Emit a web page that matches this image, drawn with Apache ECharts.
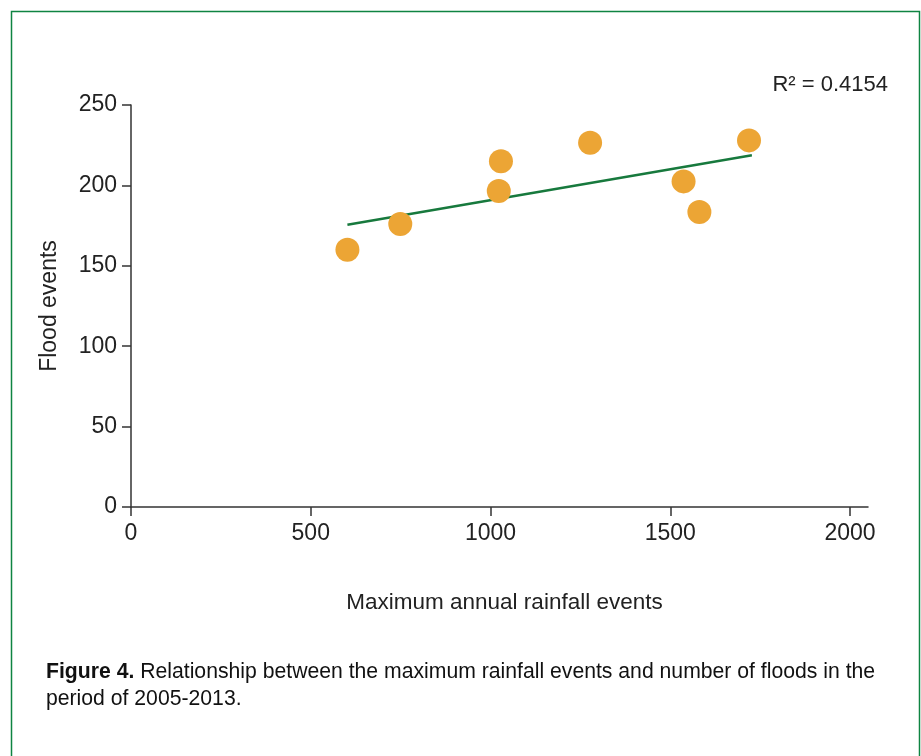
<!DOCTYPE html>
<html>
<head>
<meta charset="utf-8">
<script src="https://cdn.jsdelivr.net/npm/echarts@6/dist/echarts.min.js"></script>
<style>
  html, body { margin: 0; padding: 0; background: #fff; }
  #chart { width: 921px; height: 756px; }
</style>
</head>
<body>
<div id="chart"></div>
<script>
// Data
var rainfall = [602, 749, 1029, 1023, 1277, 1537, 1581, 1719];
var floods   = [160, 176, 215, 196.5, 226.5, 202.5, 183.5, 228];
var trendX   = [602, 1727];
var trendY   = [175.5, 218.7];
var xTicks   = [0, 500, 1000, 1500, 2000];
var yTicks   = [0, 50, 100, 150, 200, 250];
var r2Text   = 'R² = 0.4154';
var captionBold = 'Figure 4.';
var captionRest = ' Relationship between the maximum rainfall events and number of floods in the';
var captionLine2 = 'period of 2005-2013.';

var points = rainfall.map(function (x, i) { return [x, floods[i]]; });
var trend = trendX.map(function (x, i) { return [x, trendY[i]]; });

var FONT = '"Liberation Sans", Arial, Helvetica, sans-serif';
var chart = echarts.init(document.getElementById('chart'), null, { renderer: 'canvas' });

chart.setOption({
  animation: false,
  backgroundColor: '#ffffff',
  textStyle: { fontFamily: FONT },
  graphic: [
    {
      type: 'rect', left: 9, top: 9, silent: true,
      shape: { width: 908, height: 780 },
      style: { fill: 'none', stroke: '#0f8442', lineWidth: 1.5 }
    },
    {
      type: 'text', right: 33, top: 74,
      style: { text: r2Text, font: '22px ' + FONT, fill: '#222' }
    },
    {
      type: 'text', left: 46, top: 662,
      style: {
        text: '{b|' + captionBold + '}{n|' + captionRest + '}\n{n|' + captionLine2 + '}',
        rich: {
          b: { fontWeight: 'bold', fontSize: 21.2, fill: '#111', lineHeight: 27, fontFamily: FONT },
          n: { fontSize: 21.2, fill: '#111', lineHeight: 27, fontFamily: FONT }
        }
      }
    }
  ],
  grid: { left: 131, right: 53, top: 105, bottom: 249, containLabel: false },
  xAxis: {
    type: 'value', min: 0, max: 2050, interval: 500,
    name: 'Maximum annual rainfall events',
    nameLocation: 'middle', nameGap: 84,
    nameTextStyle: { fontSize: 22.5, color: '#222', padding: [0, 0, 0, 10] },
    axisLine: { show: true, onZero: false, lineStyle: { color: '#333', width: 1.5 } },
    axisTick: { show: true, length: 9, customValues: xTicks, lineStyle: { color: '#333', width: 1.5 } },
    axisLabel: { customValues: xTicks, fontSize: 23, color: '#222', margin: 15,
      formatter: function (v) { return String(v); } },
    splitLine: { show: false }
  },
  yAxis: {
    type: 'value', min: 0, max: 250, interval: 50,
    name: 'Flood events',
    nameLocation: 'middle', nameGap: 70, nameRotate: 90,
    nameTextStyle: { fontSize: 23, color: '#222' },
    axisLine: { show: true, lineStyle: { color: '#333', width: 1.5 } },
    axisTick: { show: true, length: 9, customValues: yTicks, lineStyle: { color: '#333', width: 1.5 } },
    axisLabel: { customValues: yTicks, fontSize: 23, color: '#222', margin: 14,
      formatter: function (v) { return String(v); } },
    splitLine: { show: false }
  },
  series: [
    {
      type: 'line', data: trend, symbol: 'none', silent: true, z: 2,
      lineStyle: { color: '#17793d', width: 2.5 }
    },
    {
      type: 'scatter', data: points, symbolSize: 24, z: 3,
      itemStyle: { color: '#eca535', opacity: 1 }
    }
  ]
});
</script>
</body>
</html>
